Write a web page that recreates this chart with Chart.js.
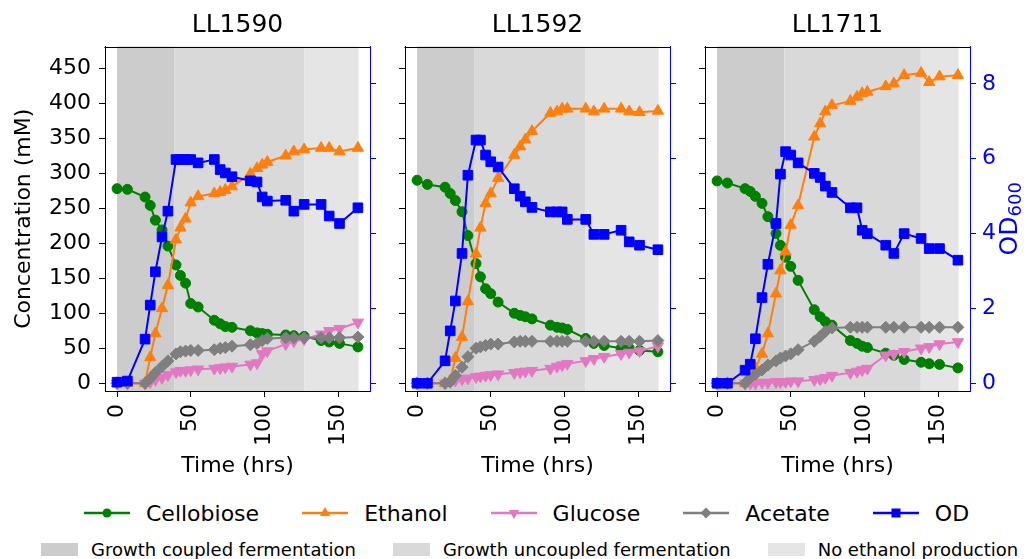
<!DOCTYPE html>
<html>
<head>
<meta charset="utf-8">
<script src="https://cdn.jsdelivr.net/npm/chart.js@4.4.0/dist/chart.umd.min.js"></script>
<style>
  body { margin: 0; background: #fff; font-family: 'DejaVu Sans', sans-serif; }
  #wrap { position: relative; width: 1030px; height: 559px; overflow: hidden; background: #fff; }
  canvas.panel { position: absolute; left: 0; top: 0; }
  .row { position: absolute; display: flex; align-items: center; white-space: nowrap; color: #000; }
  .item { display: flex; align-items: center; }
  .patch { display: inline-block; }
</style>
</head>
<body>
<div id="wrap">
  <canvas class="panel" id="p0" width="1030" height="482"></canvas>
  <canvas class="panel" id="p1" width="1030" height="482"></canvas>
  <canvas class="panel" id="p2" width="1030" height="482"></canvas>
  <div class="row" id="legLines" style="left:84px; top:500px; height:26px; gap:43px; font-size:22px;"></div>
  <div class="row" id="legPhases" style="left:41px; top:538px; height:22px; gap:37px; font-size:18px;"></div>
</div>
<script>
// sampling times (hrs), shared by the three strains
const TIME_HRS = [0, 7, 19, 22.5, 26, 30.5, 34.5, 40, 43, 46.5, 50, 55, 66, 70, 73.5, 78,
                  90.5, 95, 98.5, 102, 114.5, 120, 127, 138.5, 144, 151, 163.5];

const STRAINS = ['LL1590', 'LL1592', 'LL1711'];

// LL1590 (mM, OD600)
const CELLO_1590 = [278, 277, 266, 254, 233, 219, 196, 169, 154, 143, 114, 109, 90, 85, 81, 80, 75, 72, 71, 70, 69, 68, 67, 61, 59, 57, 52];
const ETOH_1590  = [0, 0, 0, 37, 71, 107, 140, 205, 222, 235, 258, 267, 271, 273, 276, 281, 299, 307, 312, 316, 325, 331, 334, 336, 336, 331, 336];
const GLUC_1590  = [0, 0, 0, 2, 5, 8, 12, 16, 18, 18, 19, 20, 21, 22, 23, 24, 27, 29, 42, 46, 56, 60, 63, 70, 75, 78, 87];
const ACET_1590  = [0, 0, 0, 7, 15, 24, 32, 42, 45, 46, 47, 47, 48, 50, 51, 53, 55, 57, 61, 64, 65, 65, 65, 65, 65, 65, 66];
const OD_1590    = [0.03, 0.06, 1.18, 2.09, 2.98, 3.91, 4.6, 5.98, 5.98, 5.98, 5.98, 5.89, 5.98, 5.71, 5.62, 5.52, 5.41, 5.38, 4.98, 4.87, 4.89, 4.6, 4.78, 4.78, 4.47, 4.27, 4.69];

// LL1592
const CELLO_1592 = [290, 284, 280, 271, 261, 245, 211, 171, 152, 135, 128, 116, 100, 97, 95, 92, 83, 80, 79, 77, 64, 57, 54, 50, 50, 47, 45];
const ETOH_1592  = [0, 0, 0, 4, 36, 66, 117, 185, 222, 257, 271, 293, 326, 338, 348, 360, 386, 388, 392, 392, 392, 388, 392, 392, 388, 387, 389];
const GLUC_1592  = [0, 0, 0, 2, 4, 6, 7, 9, 10, 11, 12, 13, 15, 16, 17, 18, 21, 24, 26, 28, 32, 35, 38, 42, 44, 46, 53];
const ACET_1592  = [0, 0, 0, 2, 11, 23, 38, 50, 52, 54, 56, 56, 59, 60, 60, 60, 60, 60, 60, 60, 60, 60, 60, 60, 60, 60, 61];
const OD_1592    = [0, 0, 0.6, 1.4, 2.2, 3.47, 5.56, 6.5, 6.5, 6.1, 5.92, 5.78, 5.2, 5.0, 4.85, 4.7, 4.58, 4.58, 4.58, 4.38, 4.38, 3.98, 3.98, 4.09, 3.78, 3.69, 3.57];

// LL1711
const CELLO_1711 = [289, 286, 278, 274, 267, 257, 238, 214, 197, 180, 167, 147, 105, 95, 88, 83, 61, 57, 53, 51, 43, 40, 34, 30, 28, 27, 22];
const ETOH_1711  = [0, 0, 0, 8, 22, 42, 71, 128, 161, 188, 226, 254, 352, 371, 388, 397, 403, 409, 414, 416, 424, 428, 440, 443, 430, 438, 440];
const GLUC_1711  = [0, 0, 0, 0, 0, 1, 1, 2, 2, 2, 3, 3, 5, 6, 8, 11, 15, 17, 19, 21, 40, 42, 45, 50, 52, 56, 59];
const ACET_1711  = [0, 0, 0, 8, 13, 19, 26, 32, 36, 39, 42, 48, 60, 67, 74, 79, 80, 80, 80, 80, 80, 80, 80, 80, 80, 80, 80];
const OD_1711    = [0, 0, 0.35, 0.51, 1.19, 2.29, 3.18, 4.27, 5.59, 6.19, 6.1, 5.89, 5.61, 5.5, 5.27, 5.1, 4.69, 4.69, 4.09, 4.0, 3.69, 3.47, 4.0, 3.87, 3.6, 3.6, 3.29];

// phase boundaries (hrs): growth coupled | growth uncoupled | no ethanol production
const PHASE_1590 = [0, 38.7, 127, 164];
const PHASE_1592 = [0, 38.7, 114.1, 164];
const PHASE_1711 = [0, 45.7, 138.3, 164];
const PHASE_NAMES = ['Growth coupled fermentation', 'Growth uncoupled fermentation', 'No ethanol production'];

// axis ticks
const TIME_TICKS = [0, 50, 100, 150];
const CONC_TICKS = [0, 50, 100, 150, 200, 250, 300, 350, 400, 450];
const OD_TICKS = [0, 2, 4, 6, 8];

const SERIES_NAMES = ['Cellobiose', 'Ethanol', 'Glucose', 'Acetate', 'OD'];

const PANELS = [
  [CELLO_1590, ETOH_1590, GLUC_1590, ACET_1590, OD_1590, PHASE_1590],
  [CELLO_1592, ETOH_1592, GLUC_1592, ACET_1592, OD_1592, PHASE_1592],
  [CELLO_1711, ETOH_1711, GLUC_1711, ACET_1711, OD_1711, PHASE_1711]
];

// styles
const FONT = 'DejaVu Sans';
const COLORS = ['#008000', '#ff7f0e', '#e377c2', '#7f7f7f', '#0000ff'];
const MARKERS = [
  { style: 'circle', r: 5, rot: 0 },
  { style: 'triangle', r: 6.5, rot: 0 },
  { style: 'triangle', r: 6.5, rot: 180 },
  { style: 'rectRot', r: 6, rot: 0 },
  { style: 'rect', r: 6.8, rot: 0 }
];
const PHASE_COLORS = ['#cccccc', '#d9d9d9', '#e5e5e5'];
const PANEL_LEFT = [105, 405, 705];
const AREA_W = 265;

Chart.defaults.font.family = FONT;

const phasePlugin = {
  id: 'phases',
  beforeDraw(chart, args, opts) {
    const { ctx, chartArea: a, scales: { x } } = chart;
    const edges = opts.edges;
    ctx.save();
    for (let k = 0; k < edges.length - 1; k++) {
      const x0 = x.getPixelForValue(edges[k]);
      const x1 = x.getPixelForValue(edges[k + 1]);
      ctx.fillStyle = PHASE_COLORS[k];
      ctx.fillRect(x0, a.top, x1 - x0, a.bottom - a.top);
    }
    ctx.restore();
  },
  afterDraw(chart, args, opts) {
    const { ctx, chartArea: a } = chart;
    ctx.save();
    // top spine
    ctx.strokeStyle = '#000';
    ctx.lineWidth = 1;
    ctx.beginPath();
    const ty = Math.round(a.top) + 0.5;
    ctx.moveTo(a.left - 0.5, ty);
    ctx.lineTo(a.right + 0.5, ty);
    ctx.stroke();
    // OD600 label with subscript
    if (opts.odLabel) {
      const s = chart.scales.y1;
      const cx = s.right - 20;
      const cy = (a.top + a.bottom) / 2;
      ctx.translate(cx, cy);
      ctx.rotate(-Math.PI / 2);
      ctx.fillStyle = '#0000ff';
      ctx.textBaseline = 'middle';
      ctx.textAlign = 'left';
      ctx.font = '25px "' + FONT + '"';
      const w1 = ctx.measureText('OD').width;
      ctx.font = '18px "' + FONT + '"';
      const w2 = ctx.measureText('600').width;
      const start = -(w1 + w2) / 2;
      ctx.font = '25px "' + FONT + '"';
      ctx.fillText('OD', start, 0);
      ctx.font = '18px "' + FONT + '"';
      ctx.fillText('600', start + w1, 6);
    }
    ctx.restore();
  }
};

function makeSeries(k, values) {
  const m = MARKERS[k];
  return {
    label: SERIES_NAMES[k],
    data: TIME_HRS.map((t, j) => ({ x: t, y: values[j] })),
    borderColor: COLORS[k],
    backgroundColor: COLORS[k],
    pointBackgroundColor: COLORS[k],
    pointBorderColor: COLORS[k],
    pointStyle: m.style,
    pointRadius: m.r,
    pointRotation: m.rot,
    pointBorderWidth: 1,
    borderWidth: 2,
    tension: 0,
    fill: false,
    yAxisID: k === 4 ? 'y1' : 'y',
    order: 5 - k
  };
}

function tickFont() { return { family: FONT, size: 22 }; }

PANELS.forEach((p, i) => {
  const left = PANEL_LEFT[i];
  new Chart(document.getElementById('p' + i), {
    type: 'line',
    data: { datasets: [0, 1, 2, 3, 4].map(k => makeSeries(k, p[k])) },
    plugins: [phasePlugin],
    options: {
      responsive: false,
      animation: false,
      events: [],
      layout: { padding: { left: left - 100, right: 1030 - (left + AREA_W) - 60, top: 10.5, bottom: 0 } },
      plugins: {
        legend: { display: false },
        tooltip: { enabled: false },
        title: {
          display: true, text: STRAINS[i], fullSize: false, color: '#000',
          font: { family: FONT, size: 25, weight: 'normal' },
          padding: { top: 0, bottom: 6 }
        },
        phases: { edges: p[5], odLabel: i === 2 }
      },
      scales: {
        x: {
          type: 'linear', min: -8.2, max: 171.7,
          afterBuildTicks: s => { s.ticks = TIME_TICKS.map(v => ({ value: v })); },
          afterFit: s => { s.height = 91; s.paddingLeft = 0; s.paddingRight = 0; },
          ticks: { minRotation: 90, maxRotation: 90, autoSkip: false, padding: 7, color: '#000', font: tickFont() },
          grid: { drawOnChartArea: false, drawTicks: true, tickLength: 6, tickColor: '#000', tickWidth: 1 },
          border: { display: true, color: '#000', width: 1 },
          title: { display: true, text: 'Time (hrs)', color: '#000', font: { family: FONT, size: 22 }, padding: { top: 0, bottom: 3 } }
        },
        y: {
          position: 'left', min: -11, max: 481,
          afterBuildTicks: s => { s.ticks = CONC_TICKS.map(v => ({ value: v })); },
          afterFit: s => { s.width = 100; s.paddingTop = 0; s.paddingBottom = 0; },
          ticks: { display: i === 0, padding: 8, color: '#000', font: tickFont() },
          grid: { drawOnChartArea: false, drawTicks: true, tickLength: 6, tickColor: '#000', tickWidth: 1 },
          border: { display: true, color: '#000', width: 1 },
          title: { display: i === 0, text: 'Concentration (mM)', color: '#000', font: { family: FONT, size: 22 }, padding: { top: 6, bottom: 0 } }
        },
        y1: {
          position: 'right', min: -0.206, max: 9.0,
          afterBuildTicks: s => { s.ticks = OD_TICKS.map(v => ({ value: v })); },
          afterFit: s => { s.width = 60; s.paddingTop = 0; s.paddingBottom = 0; },
          ticks: { display: i === 2, padding: 6, color: '#0000ff', font: tickFont() },
          grid: { drawOnChartArea: false, drawTicks: true, tickLength: 6, tickColor: '#0000ff', tickWidth: 1 },
          border: { display: true, color: '#0000ff', width: 1 }
        }
      }
    }
  });
});

// legend (line + marker samples)
function markerSvg(k) {
  const c = COLORS[k];
  const cx = 23, cy = 10;
  let shape = '';
  if (k === 0) shape = `<circle cx="${cx}" cy="${cy}" r="4.5" fill="${c}"/>`;
  if (k === 1) shape = `<polygon points="${cx},${cy - 6} ${cx + 5.2},${cy + 3} ${cx - 5.2},${cy + 3}" fill="${c}"/>`;
  if (k === 2) shape = `<polygon points="${cx},${cy + 6} ${cx + 5.2},${cy - 3} ${cx - 5.2},${cy - 3}" fill="${c}"/>`;
  if (k === 3) shape = `<polygon points="${cx},${cy - 5.5} ${cx + 5.5},${cy} ${cx},${cy + 5.5} ${cx - 5.5},${cy}" fill="${c}"/>`;
  if (k === 4) shape = `<rect x="${cx - 4.5}" y="${cy - 4.5}" width="9" height="9" fill="${c}"/>`;
  return `<svg width="46" height="20" style="margin-right:16px"><line x1="0" y1="${cy}" x2="46" y2="${cy}" stroke="${c}" stroke-width="2.5"/>${shape}</svg>`;
}

const legLines = document.getElementById('legLines');
SERIES_NAMES.forEach((name, k) => {
  const d = document.createElement('div');
  d.className = 'item';
  d.innerHTML = markerSvg(k) + '<span>' + name + '</span>';
  legLines.appendChild(d);
});

const legPhases = document.getElementById('legPhases');
PHASE_NAMES.forEach((name, k) => {
  const d = document.createElement('div');
  d.className = 'item';
  d.innerHTML = `<span class="patch" style="width:37px;height:13px;background:${PHASE_COLORS[k]};margin-right:13px"></span><span>${name}</span>`;
  legPhases.appendChild(d);
});
</script>
</body>
</html>
